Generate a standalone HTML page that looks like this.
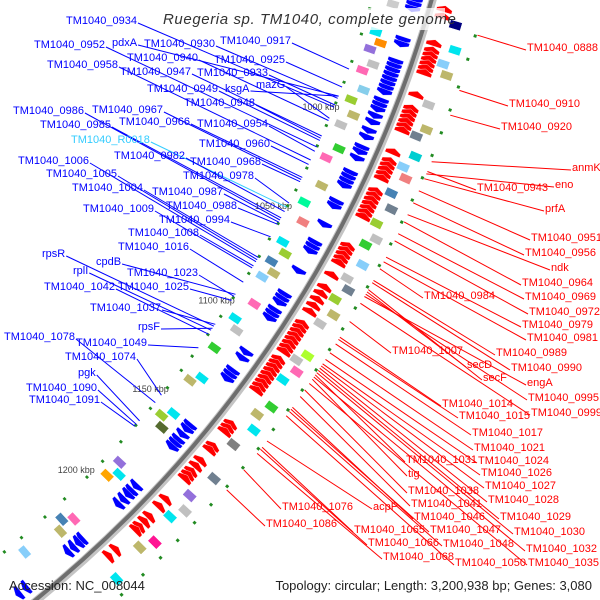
<!DOCTYPE html>
<html><head><meta charset="utf-8"><style>
html,body{margin:0;padding:0;background:#fff;width:600px;height:600px;overflow:hidden;}
svg{display:block;font-family:"Liberation Sans",sans-serif;}
</style></head><body>
<svg id="map" width="600" height="600" viewBox="0 0 600 600" overflow="hidden">
<g id="features"></g>
<g id="leaders"></g>
<g id="labels"></g>
<rect x="160" y="8" width="285" height="22" fill="#fff" opacity="0.75"/>
<text x="163" y="24" font-size="15" font-style="italic" fill="#333" letter-spacing="0.6">Ruegeria sp. TM1040, complete genome</text>
<text x="9" y="590" font-size="13" fill="#222">Accession: NC_008044</text>
<text x="592" y="590" font-size="13" fill="#222" text-anchor="end">Topology: circular; Length: 3,200,938 bp; Genes: 3,080</text>
</svg>
<script>
// ---- data ----
const tickKbp = [1000, 1050, 1100, 1150, 1200];
const blueGenes = [940,942,944,958,960,968,970,972,974,976,978,980,982,986,988,990,993,996,1000,1003,1008,1010,1013,1020,1022,1024,1026,1034,1036,1045,1054,1056,1058,1068,1080,1082,1084,1088,1090,1092,1110,1113,1120,1122,1124,1150,1152,1155,1158,1160,1162,1185,1188,1190,1193,1196,1218,1220,1223,1226,1250,1254];
const redGenes = [940,943,955,958,960,962,964,966,968,978,984,986,988,990,992,994,1004,1008,1010,1012,1014,1016,1022,1024,1026,1028,1030,1032,1034,1048,1050,1052,1054,1056,1062,1068,1071,1074,1077,1080,1086,1088,1090,1092,1094,1096,1098,1100,1104,1106,1108,1110,1112,1114,1116,1118,1120,1138,1140,1142,1150,1152,1158,1161,1164,1166,1168,1180,1184,1190,1193,1196,1198,1210,1214];
const innerBoxKbp = [944,958,962,966,972,976,984,990,996,1002,1012,1018,1030,1040,1048,1060,1064,1070,1074,1078,1090,1100,1104,1116,1130,1134,1150,1154,1158,1182,1186,1190,1214,1218,1222,1240];
const innerBoxCol = ['#ccc','#00e5ee','#ff8c00','#9370db','#c0c0c0','#ff69b4','#87ceeb','#9acd32','#bdb76b','#c0c0c0','#32cd32','#ff69b4','#bdb76b','#00fa9a','#f08080','#00e5ee','#9acd32','#4682b4','#bdb76b','#87cefa','#ff69b4','#00e5ee','#c0c0c0','#32cd32','#00e5ee','#bdb76b','#00e5ee','#9acd32','#556b2f','#9370db','#00e5ee','#ffa500','#ff69b4','#4682b4','#bdb76b','#87cefa'];
const outerBoxKbp = [945,955,962,966,980,990,994,1002,1008,1012,1020,1026,1034,1040,1044,1052,1060,1064,1070,1076,1082,1096,1100,1104,1110,1122,1128,1134,1144,1160,1172,1178,1184,1196,1202,1218];
const outerBoxCol = ['#000080','#00e5ee','#87cefa','#bdb76b','#c0c0c0','#bdb76b','#708090','#00ced1','#87cefa','#f08080','#4682b4','#708090','#9acd32','#c0c0c0','#32cd32','#87cefa','#c0c0c0','#708090','#9acd32','#bdb76b','#c0c0c0','#adff2f','#c0c0c0','#ff69b4','#00e5ee','#32cd32','#bdb76b','#00e5ee','#808080','#708090','#9370db','#c0c0c0','#00e5ee','#ff1493','#bdb76b','#00e5ee'];
const innerDashKbp = [950,962,975,985,995,1006,1016,1027,1038,1046,1055,1063,1072,1081,1094,1104,1114,1126,1134,1144,1156,1166,1176,1188,1198,1212,1224,1238,1248];
const outerDashKbp = [948,958,970,980,990,1000,1010,1020,1030,1040,1050,1060,1070,1080,1090,1100,1110,1120,1130,1140,1150,1160,1170,1180,1190,1200,1210,1222,1232];
const blueNames = ['TM1040_0934','TM1040_0952','pdxA','TM1040_0930','TM1040_0917','TM1040_0940','TM1040_0925','TM1040_0958','TM1040_0947','TM1040_0933','mazG','TM1040_0949','ksgA','TM1040_0948','TM1040_0986','TM1040_0967','TM1040_0985','TM1040_0966','TM1040_0954','TM1040_R0018','TM1040_0960','TM1040_0982','TM1040_1006','TM1040_0968','TM1040_1005','TM1040_0978','TM1040_1004','TM1040_0987','TM1040_1009','TM1040_0988','TM1040_0994','TM1040_1008','TM1040_1016','rpsR','cpdB','rplI','TM1040_1023','TM1040_1042','TM1040_1025','TM1040_1037','rpsF','TM1040_1078','TM1040_1049','TM1040_1074','pgk','TM1040_1090','TM1040_1091'];
const blueGeneNo = [934,952,929,930,917,940,925,958,947,933,939,949,929,948,986,967,985,966,954,980,960,982,1006,968,1005,978,1004,987,1009,988,994,1008,1016,1038,1022,1040,1023,1042,1025,1037,1039,1078,1049,1074,1088,1090,1091];
const blueX = [66,34,112,144,220,127,214,47,120,197,256,147,225,184,13,92,40,119,197,71,199,114,18,190,46,183,72,152,83,166,159,128,118,42,96,73,127,44,118,90,138,4,76,65,78,26,29];
const blueY = [21,45,43,44,41,58,60,65,72,73,85,89,89,103,111,110,125,122,124,140,144,156,161,162,174,176,188,192,209,206,220,233,247,254,262,271,273,287,287,308,327,337,343,357,373,388,400];
const redNames = ['TM1040_0888','TM1040_0910','TM1040_0920','anmK','eno','TM1040_0943','prfA','TM1040_0951','TM1040_0956','ndk','TM1040_0964','TM1040_0984','TM1040_0969','TM1040_0972','TM1040_0979','TM1040_0981','TM1040_1007','TM1040_0989','secD','TM1040_0990','secF','engA','TM1040_0995','TM1040_1014','TM1040_1015','TM1040_0999','TM1040_1017','TM1040_1021','TM1040_1031','TM1040_1024','tig','TM1040_1026','TM1040_1038','TM1040_1027','TM1040_1041','TM1040_1028','TM1040_1076','acpP','TM1040_1046','TM1040_1029','TM1040_1086','TM1040_1065','TM1040_1047','TM1040_1030','TM1040_1066','TM1040_1048','TM1040_1032','TM1040_1068','TM1040_1050','TM1040_1035'];
const redGeneNo = [888,910,920,939,944,943,946,951,956,961,964,984,969,972,979,981,1007,989,994,990,993,996,995,1014,1015,999,1017,1021,1031,1024,1033,1026,1038,1027,1041,1028,1076,1062,1046,1029,1086,1065,1047,1030,1066,1048,1032,1068,1050,1035];
const redX = [527,509,501,572,555,477,545,531,525,551,522,424,525,529,522,527,392,496,467,511,483,527,528,442,459,531,472,474,406,478,408,481,408,485,411,488,282,373,414,500,266,354,430,514,368,443,526,383,455,528];
const redY = [48,104,127,168,185,188,209,238,253,268,283,296,297,312,325,338,351,353,365,368,378,383,398,404,416,413,433,448,460,461,474,473,491,486,504,500,507,507,517,517,524,530,530,532,543,544,549,557,563,563];

// ---- scales ----
const CX = -715, CY = -326, R = 1192;
function ang(kbp){ return (22.7 + (kbp - 1000) * 0.1125) * Math.PI / 180; }
function pt(kbp, r){ const a = ang(kbp); return [CX + r * Math.cos(a), CY + r * Math.sin(a)]; }
function geneKbp(n){ return 948 + (n - 888) * 1.08; }
const NS = 'http://www.w3.org/2000/svg';
const feat = document.getElementById('features');
const lead = document.getElementById('leaders');
const labs = document.getElementById('labels');
function mk(tag, attrs, parent){ const e = document.createElementNS(NS, tag); for (const k in attrs) e.setAttribute(k, attrs[k]); parent.appendChild(e); return e; }
function P(p){ return p[0].toFixed(1) + ',' + p[1].toFixed(1); }

// backbone
function arcPath(r, k1, k2){ const a = pt(k1, r), b = pt(k2, r); return 'M' + P(a) + ' A' + r + ',' + r + ' 0 0 1 ' + P(b); }
let bb = mk('path', {d: arcPath(R + 1, 925, 1262), stroke: '#c4c4c4', 'stroke-width': 8, fill: 'none'}, feat);


let bb2 = mk('path', {d: arcPath(R, 925, 1262), stroke: '#6e6e6e', 'stroke-width': 4, fill: 'none'}, feat);



// ticks
tickKbp.forEach(k => {
  const p = pt(k, R - 69);
  const t = mk('text', {x: p[0].toFixed(1), y: p[1].toFixed(1), 'font-size': 9, fill: '#444', 'text-anchor': 'middle', 'dominant-baseline': 'middle'}, feat);
  t.textContent = k + ' kbp';
  
  
});

// dashes
function dash(k, r, name){
  const a = pt(k, r), b = pt(k + 1.2, r);
  const l = mk('line', {x1: a[0], y1: a[1], x2: b[0], y2: b[1], stroke: '#228b22', 'stroke-width': 3}, feat);
  
  
}
innerDashKbp.forEach(k => dash(k, R - 57, 'inner-dash'));
outerDashKbp.forEach(k => dash(k, R + 52, 'outer-dash'));

// boxes
function box(k, r, col, name){
  const len = 3.4, h = 6;
  const pts = [pt(k, r - h), pt(k + len, r - h), pt(k + len, r + h), pt(k, r + h)].map(P).join(' ');
  const e = mk('polygon', {points: pts, fill: col, stroke: '#fff', 'stroke-width': 0.5}, feat);
  
  
}
innerBoxKbp.forEach((k, i) => box(k, R - 36 - (i % 2) * 8, innerBoxCol[i], 'inner-cog-box'));
outerBoxKbp.forEach((k, i) => box(k, R + 30 + (i % 2) * 7, outerBoxCol[i], 'outer-cog-box'));

// genes
function arrow(k, r, forward, col, name){
  const len = 2.8, h = 8;
  let pts;
  if (forward) pts = [pt(k, r - h), pt(k + len * 0.5, r - h), pt(k + len, r), pt(k + len * 0.5, r + h), pt(k, r + h)];
  else pts = [pt(k + len, r - h), pt(k + len * 0.5, r - h), pt(k, r), pt(k + len * 0.5, r + h), pt(k + len, r + h)];
  const e = mk('polygon', {points: pts.map(P).join(' '), fill: col, stroke: '#fff', 'stroke-width': 0.4}, feat);
  
  
}
blueGenes.forEach(k => arrow(k, R - 16, true, '#0000ff', 'forward-gene'));
redGenes.forEach(k => arrow(k, R + 15, false, '#ff0000', 'reverse-gene'));

// labels
function label(name, x, y, n, col, inner){
  const t = mk('text', {x: x, y: y, 'font-size': 11, fill: col, 'dominant-baseline': 'middle'}, labs);
  t.textContent = name;
  
  
  const w = t.getComputedTextLength ? t.getComputedTextLength() : name.length * 6.1;
  const target = pt(geneKbp(n), inner ? R - 57 : R + 54);
  const sx = inner ? x + w + 1 : x - 1;
  const l = mk('line', {x1: sx, y1: y + 2, x2: target[0].toFixed(1), y2: target[1].toFixed(1), stroke: col, 'stroke-width': 1}, lead);
  
  
}
blueNames.forEach((nm, i) => label(nm, blueX[i], blueY[i], blueGeneNo[i], nm === 'TM1040_R0018' ? '#33ccff' : '#0000ff', true));
redNames.forEach((nm, i) => label(nm, redX[i], redY[i], redGeneNo[i], '#ff0000', false));
</script>
</body></html>
